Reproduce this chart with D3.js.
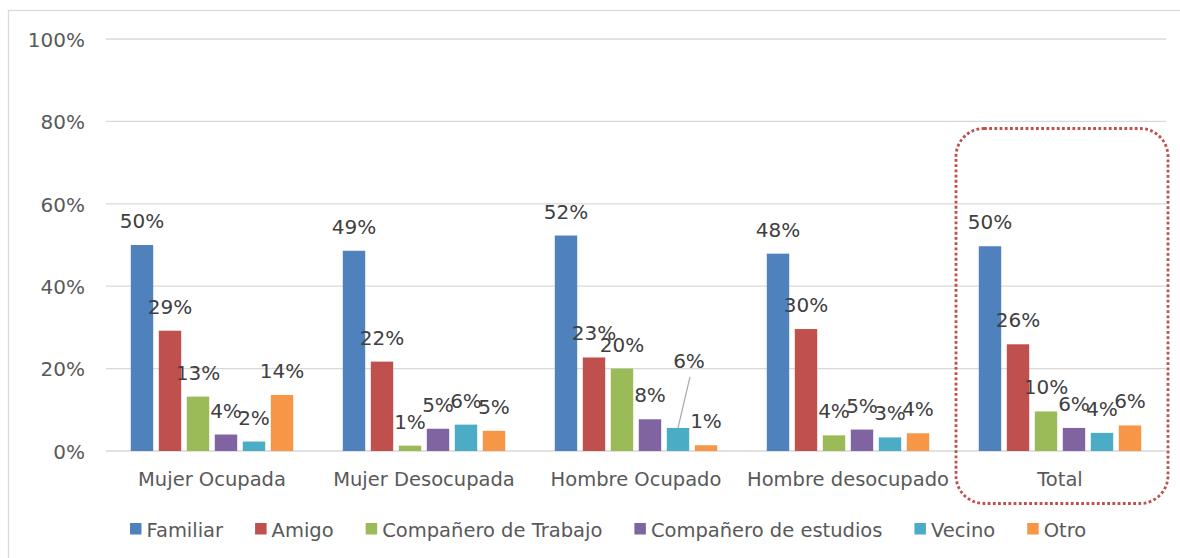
<!DOCTYPE html>
<html>
<head>
<meta charset="utf-8">
<script src="https://cdn.jsdelivr.net/npm/d3@7"></script>
<style>
  html, body { margin: 0; padding: 0; background: #fff; }
  svg { display: block; font-family: "DejaVu Sans", sans-serif; }
</style>
</head>
<body>
<svg id="chart" width="1180" height="558"></svg>
<script>
// ---- data ----
const categories = ["Mujer Ocupada", "Mujer Desocupada", "Hombre Ocupado", "Hombre desocupado", "Total"];
const seriesNames = ["Familiar", "Amigo", "Compañero de Trabajo", "Compañero de estudios", "Vecino", "Otro"];
const familiar          = [0.500, 0.486, 0.523, 0.479, 0.497];
const amigo             = [0.292, 0.217, 0.227, 0.296, 0.259];
const companeroTrabajo  = [0.132, 0.013, 0.200, 0.038, 0.096];
const companeroEstudios = [0.040, 0.054, 0.077, 0.052, 0.056];
const vecino            = [0.023, 0.064, 0.056, 0.033, 0.044];
const otro              = [0.136, 0.049, 0.014, 0.043, 0.062];
const yTicks = [0, 0.2, 0.4, 0.6, 0.8, 1.0];

const seriesValues = [familiar, amigo, companeroTrabajo, companeroEstudios, vecino, otro];
const colors = ["#4F81BD", "#C0504D", "#9BBB59", "#8064A2", "#4BACC6", "#F79646"];

// ---- layout ----
const svg = d3.select("#chart");
const plot = { left: 106, right: 1166, top: 39, bottom: 451 };

// chart frame (clipped at right/bottom like reference)
svg.append("rect")
  .attr("x", 8.5).attr("y", 10.5).attr("width", 1200).attr("height", 600)
  .attr("fill", "none").attr("stroke", "#D9D9D9").attr("stroke-width", 1.3);

const x0 = d3.scaleBand().domain(categories).range([plot.left, plot.right]).paddingInner(0).paddingOuter(0);
const x1 = d3.scaleBand().domain(seriesNames).range([0, x0.bandwidth()]).paddingInner(0.2).paddingOuter(0.886);
const y = d3.scaleLinear().domain([0, 1]).range([plot.bottom, plot.top]);
const color = d3.scaleOrdinal().domain(seriesNames).range(colors);
const pct = d3.format(".0%");

// gridlines
svg.append("g").selectAll("line").data(yTicks).join("line")
  .attr("x1", plot.left).attr("x2", plot.right)
  .attr("y1", d => y(d)).attr("y2", d => y(d))
  .attr("stroke", "#D9D9D9").attr("stroke-width", 1.3);

// y axis labels
const yAxis = d3.axisLeft(y).tickValues(yTicks).tickFormat(pct).tickSize(0).tickPadding(0);
const yg = svg.append("g").attr("transform", "translate(85,0)").call(yAxis);
yg.select(".domain").remove();
yg.selectAll("text").attr("font-size", 20).attr("fill", "#595959")
  .attr("font-family", "DejaVu Sans, sans-serif").attr("dy", "0.36em");

// x axis labels
const xAxis = d3.axisBottom(x0).tickSize(0).tickPadding(0);
const xg = svg.append("g").attr("transform", "translate(0,486)").call(xAxis);
xg.select(".domain").remove();
xg.selectAll("text").attr("font-size", 19.5).attr("fill", "#595959")
  .attr("font-family", "DejaVu Sans, sans-serif").attr("dy", 0);

// bars
const flat = [];
categories.forEach((c, ci) => {
  seriesNames.forEach((s, si) => {
    flat.push({ cat: c, series: s, value: seriesValues[si][ci] });
  });
});

svg.append("g").selectAll("rect").data(flat).join("rect")
  .attr("x", d => x0(d.cat) + x1(d.series))
  .attr("y", d => y(d.value))
  .attr("width", x1.bandwidth())
  .attr("height", d => y(0) - y(d.value))
  .attr("fill", d => color(d.series));

// data labels (one label moved with leader line, as in reference)
const moved = { cat: "Hombre Ocupado", series: "Vecino", dx: 11, dy: -43 };
const isMoved = d => d.cat === moved.cat && d.series === moved.series;

svg.append("g").selectAll("line").data(flat.filter(isMoved)).join("line")
  .attr("x1", d => x0(d.cat) + x1(d.series) + x1.bandwidth() / 2)
  .attr("y1", d => y(d.value))
  .attr("x2", d => x0(d.cat) + x1(d.series) + x1.bandwidth() / 2 + moved.dx + 1)
  .attr("y2", d => y(d.value) - 51)
  .attr("stroke", "#A6A6A6").attr("stroke-width", 1.2);

svg.append("g").selectAll("text").data(flat).join("text")
  .attr("x", d => x0(d.cat) + x1(d.series) + x1.bandwidth() / 2 + (isMoved(d) ? moved.dx : 0))
  .attr("y", d => y(d.value) - 17 + (isMoved(d) ? moved.dy : 0))
  .attr("text-anchor", "middle")
  .attr("font-size", 20).attr("fill", "#404040")
  .text(d => pct(d.value));

// highlight box around Total
const tx = x0("Total");
svg.append("rect")
  .attr("x", tx + 2).attr("y", 128.5)
  .attr("width", x0.bandwidth()).attr("height", 375)
  .attr("rx", 28).attr("ry", 28)
  .attr("fill", "none").attr("stroke", "#C0504D").attr("stroke-width", 2.8)
  .attr("stroke-dasharray", "2.8,2.4");

// legend
const lg = svg.append("g");
let lx = 130;
seriesNames.forEach((s, i) => {
  lg.append("rect").attr("x", lx).attr("y", 523).attr("width", 11.5).attr("height", 11.5).attr("fill", colors[i]);
  const t = lg.append("text").attr("x", lx + 16.5).attr("y", 536.5)
    .attr("font-size", 19.5).attr("fill", "#595959").text(s);
  lx += 16.5 + t.node().getComputedTextLength() + 32;
});
</script>
</body>
</html>
